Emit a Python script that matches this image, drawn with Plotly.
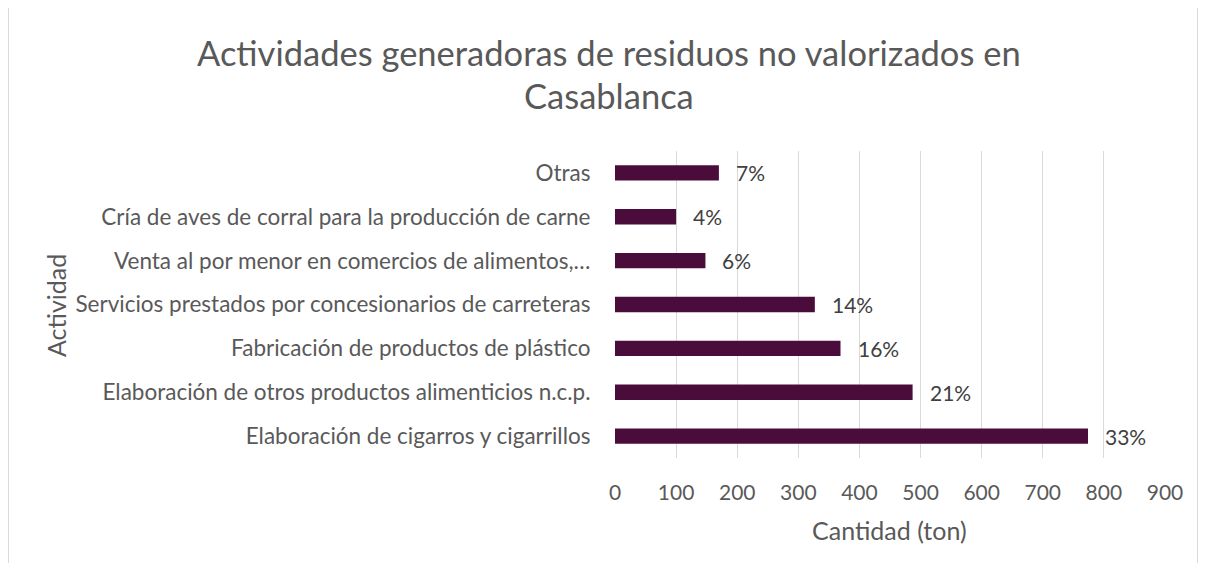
import plotly.graph_objects as go

categories = [
    "Elaboración de cigarros y cigarrillos",
    "Elaboración de otros productos alimenticios n.c.p.",
    "Fabricación de productos de plástico",
    "Servicios prestados por concesionarios de carreteras",
    "Venta al por menor en comercios de alimentos,…",
    "Cría de aves de corral para la producción de carne",
    "Otras",
]
values = [774, 487, 369, 327, 148, 100, 170]
pct_labels = ["33%", "21%", "16%", "14%", "6%", "4%", "7%"]
x_ticks = [0, 100, 200, 300, 400, 500, 600, 700, 800, 900]
title_lines = ["Actividades generadoras de residuos no valorizados en", "Casablanca"]
x_title = "Cantidad (ton)"
y_title = "Actividad"

FONT = "Lato"
GRAY = "#595959"

# page body has an 8px margin; figure coords = screen coords - 8
OFF = 8
W, H = 1190, 555
L, R, T, B = 607, 33, 143, 105
plot_h = H - T - B
plot_w = W - L - R


def py(p):  # screen y -> paper
    return (H - B - (p - OFF)) / plot_h


def px(p):  # screen x -> paper
    return ((p - OFF) - L) / plot_w


fig = go.Figure(go.Bar(
    y=categories, x=values, orientation="h",
    marker=dict(color="#4A0C3A", line=dict(width=0)),
    width=0.35, hoverinfo="x+y",
))

for cat, val, lab in zip(categories, values, pct_labels):
    fig.add_annotation(
        x=val, y=cat, text=lab, showarrow=False, xanchor="left", yanchor="middle",
        xshift=15, font=dict(family=FONT, size=21, color="#404040"),
    )

fig.update_layout(
    width=W, height=H,
    margin=dict(l=L, r=R, t=T, b=B, pad=0),
    paper_bgcolor="white", plot_bgcolor="white",
    showlegend=False,
    font=dict(family=FONT, color=GRAY),
    xaxis=dict(
        range=[0, 900], tickvals=x_ticks, showgrid=True, gridcolor="#D9D9D9",
        gridwidth=1, zeroline=False, showline=False,
        ticks="outside", ticklen=16, tickcolor="rgba(0,0,0,0)",
        tickfont=dict(family=FONT, size=21, color=GRAY),
        automargin=False, fixedrange=True,
    ),
    yaxis=dict(
        categoryorder="array", categoryarray=categories,
        showgrid=False, zeroline=False, showline=False,
        ticks="outside", ticklen=19, tickcolor="rgba(0,0,0,0)",
        tickfont=dict(family=FONT, size=22.5, color=GRAY),
        automargin=False, fixedrange=True,
    ),
)

for line, ypix in zip(title_lines, [52, 96]):
    fig.add_annotation(
        text=line, xref="paper", yref="paper", x=px(609), y=py(ypix),
        xanchor="center", yanchor="middle", showarrow=False,
        font=dict(family=FONT, size=34.5, color=GRAY),
    )

fig.add_annotation(
    text=x_title, xref="paper", yref="paper", x=px(889.5), y=py(530),
    xanchor="center", yanchor="middle", showarrow=False,
    font=dict(family=FONT, size=25, color=GRAY),
)
fig.add_annotation(
    text=y_title, xref="paper", yref="paper", x=px(56), y=py(306),
    xanchor="center", yanchor="middle", showarrow=False, textangle=-90,
    font=dict(family=FONT, size=25, color=GRAY),
)

# light chart-area border (left, top, right)
for x0, y0, x1, y1 in [(8.5, 7.5, 8.5, 640), (8.5, 7.5, 1197.5, 7.5), (1197.5, 7.5, 1197.5, 640)]:
    fig.add_shape(
        type="line", xref="paper", yref="paper",
        x0=px(x0), y0=py(y0), x1=px(x1), y1=py(y1),
        line=dict(color="#D9D9D9", width=1), layer="below",
    )

fig.write_html("out.html", config={"displayModeBar": False})
